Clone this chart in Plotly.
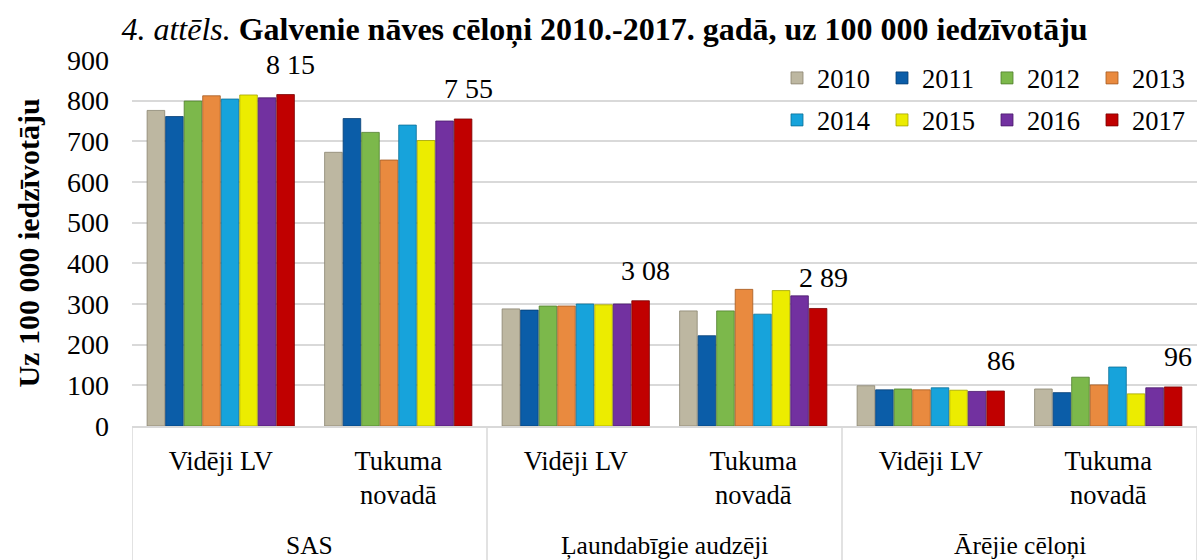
import plotly.graph_objects as go

groups = ["SAS", "SAS", "Ļaundabīgie audzēji", "Ļaundabīgie audzēji", "Ārējie cēloņi", "Ārējie cēloņi"]
subcats = ["Vidēji LV", "Tukuma<br>novadā", "Vidēji LV", "Tukuma<br>novadā", "Vidēji LV", "Tukuma<br>novadā"]
years = ["2010", "2011", "2012", "2013", "2014", "2015", "2016", "2017"]

v2010 = [776, 673, 288, 283, 99, 91]
v2011 = [761, 756, 285, 222, 89, 82]
v2012 = [799, 722, 295, 283, 91, 120]
v2013 = [812, 654, 295, 336, 89, 101]
v2014 = [804, 740, 300, 275, 94, 145]
v2015 = [814, 702, 298, 333, 88, 79]
v2016 = [807, 750, 300, 320, 85, 94]
v2017 = [815, 755, 308, 289, 86, 96]
series = [v2010, v2011, v2012, v2013, v2014, v2015, v2016, v2017]

label_texts = ["8 15", "7 55", "3 08", "2 89", "86", "96"]

colors = ["#bdb7a1", "#0b5da8", "#7cb84b", "#e98a3f", "#17a3db", "#ecec00", "#7231a0", "#c00000"]
line_colors = ["#8a8470", "#063f75", "#4f7d2c", "#a35a22", "#0b6f96", "#a3a300", "#4a1b6b", "#7a0000"]

FONT = "Liberation Serif"
W, H = 1197, 560
ML, MR, MT, MB = 132, 0, 60, 134
plot_h = H - MT - MB
bargap = 0.165
bargroupgap = 0.05
GRID = "#d9d9d9"

pos = list(range(len(subcats)))

fig = go.Figure()
for i, (yr, vals) in enumerate(zip(years, series)):
    fig.add_trace(go.Bar(
        x=pos, y=vals, name=yr,
        marker=dict(color=colors[i], line=dict(color=line_colors[i], width=0.8)),
        legend="legend" if i < 4 else "legend2",
    ))

# data labels above the 2017 bars
n = len(years)
slot = (1 - bargap) / n
offset = -(1 - bargap) / 2 + slot * (n - 0.5)
for j, (val, txt) in enumerate(zip(v2017, label_texts)):
    fig.add_annotation(x=pos[j] + offset, y=val, xref="x", yref="y", text=txt,
                       showarrow=False, yanchor="bottom", yshift=13, xshift=5,
                       font=dict(family=FONT, size=28, color="black"))

# group labels and dividers
bottom_frac = -MB / plot_h
group_names = []
group_spans = []
for j, g in enumerate(groups):
    if not group_names or group_names[-1] != g:
        group_names.append(g)
        group_spans.append([pos[j], pos[j]])
    else:
        group_spans[-1][1] = pos[j]
for g, (a, b) in zip(group_names, group_spans):
    fig.add_annotation(x=(a + b) / 2, y=-119 / plot_h, xref="x", yref="paper",
                       text=g, showarrow=False, yanchor="middle",
                       font=dict(family=FONT, size=25.5, color="black"))
boundaries = [group_spans[0][0] - 0.5] + [b + 0.5 for a, b in group_spans]
for bx in boundaries:
    fig.add_shape(type="line", x0=bx, x1=bx, xref="x", y0=0, y1=bottom_frac, yref="paper",
                  line=dict(color=GRID, width=1.5))

fig.update_layout(
    width=W, height=H,
    margin=dict(l=ML, r=MR, t=MT, b=MB),
    paper_bgcolor="white", plot_bgcolor="white",
    barmode="group", bargap=bargap, bargroupgap=bargroupgap,
    font=dict(family=FONT, size=26, color="black"),
    title=dict(
        text="<i>4. attēls.</i> <b>Galvenie nāves cēloņi 2010.-2017. gadā, uz 100 000 iedzīvotāju</b>",
        x=0.505, xref="container", xanchor="center",
        y=1 - 29 / H, yref="container", yanchor="middle",
        font=dict(family=FONT, size=32, color="black"), automargin=False,
    ),
    legend=dict(orientation="h", x=1, y=(426 - 80) / plot_h + 0.005,
                xanchor="right", yanchor="middle",
                entrywidth=60, entrywidthmode="pixels", bgcolor="rgba(0,0,0,0)",
                font=dict(family=FONT, size=26.5), itemwidth=30),
    legend2=dict(orientation="h", x=1, y=(426 - 122) / plot_h + 0.005,
                 xanchor="right", yanchor="middle",
                 entrywidth=60, entrywidthmode="pixels", bgcolor="rgba(0,0,0,0)",
                 font=dict(family=FONT, size=26.5), itemwidth=30),
    showlegend=True,
)

fig.update_yaxes(
    range=[0, 900], dtick=100, showgrid=True, gridcolor=GRID, gridwidth=1.5,
    zeroline=False, showline=False, ticks="", ticklabelstandoff=22,
    tickfont=dict(family=FONT, size=28), automargin=False,
    title=dict(text="<b>Uz 100 000 iedzīvotāju</b>", font=dict(family=FONT, size=30), standoff=18),
)
fig.update_xaxes(
    range=[pos[0] - 0.5, pos[-1] + 0.5], tickvals=pos, ticktext=subcats,
    showline=True, linecolor=GRID, linewidth=1.5, showgrid=False, zeroline=False,
    tickfont=dict(family=FONT, size=26.5), ticks="", ticklabelstandoff=10, automargin=False,
)

fig.write_html("out.html", config={"displayModeBar": False},
               post_script="document.body.style.margin='0';document.body.style.overflow='hidden';")
